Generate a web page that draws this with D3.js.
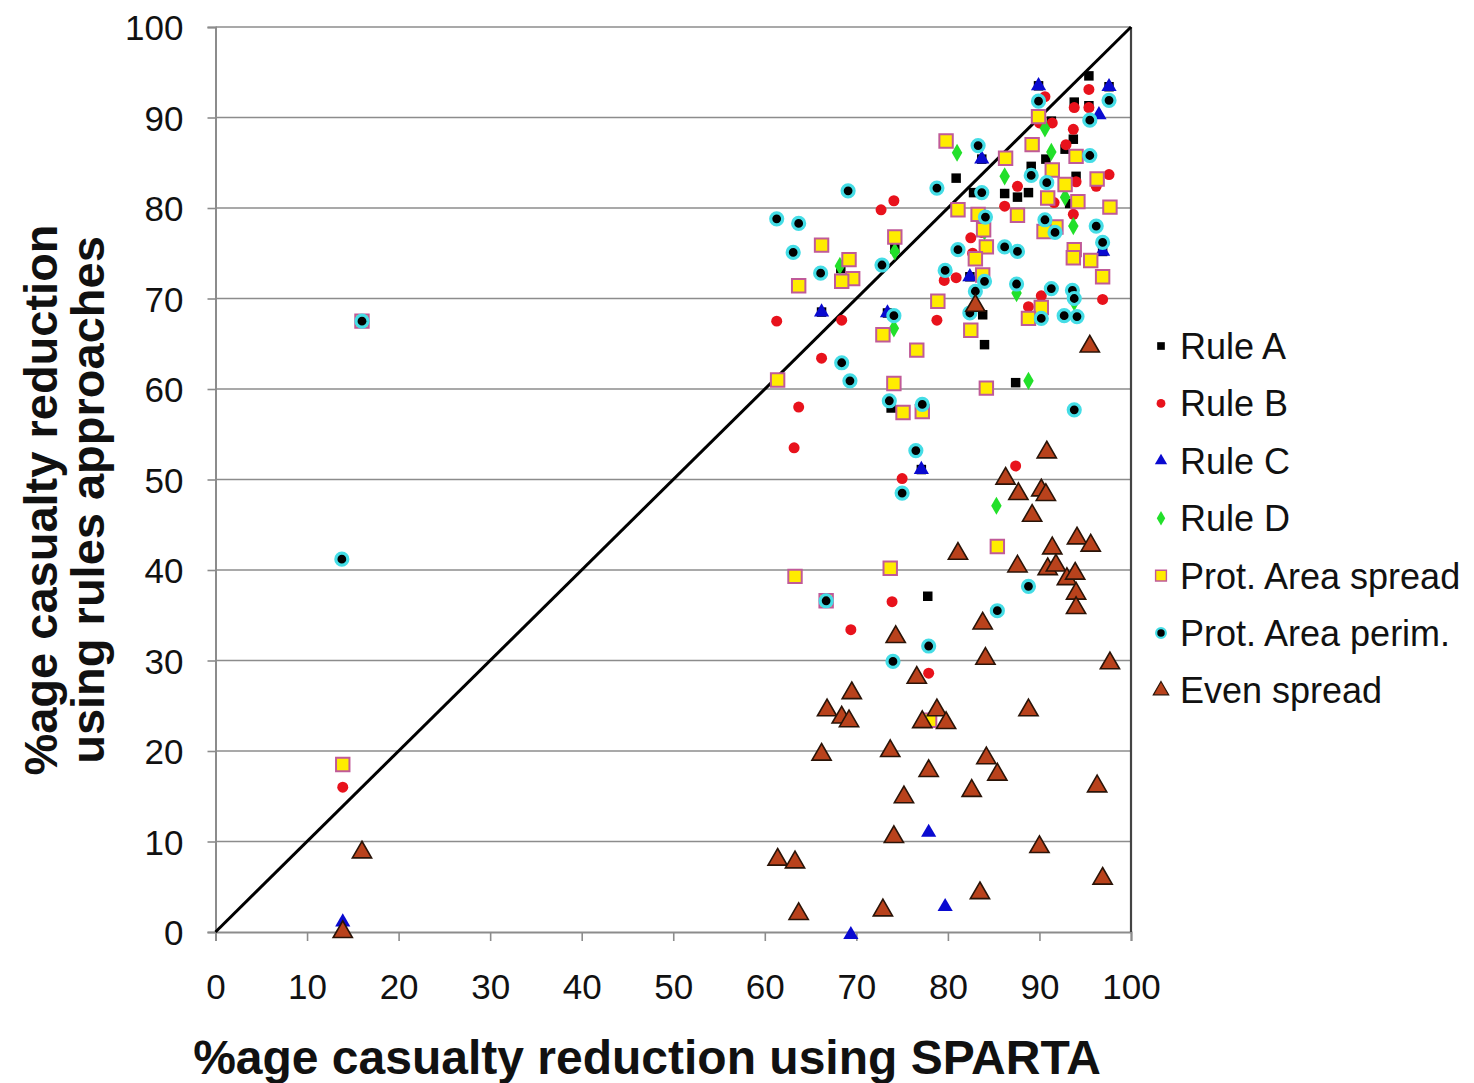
<!DOCTYPE html>
<html>
<head>
<meta charset="utf-8">
<script src="https://cdn.jsdelivr.net/npm/d3@7"></script>
<style>
  html, body { margin: 0; padding: 0; background: #fff; }
  svg { display: block; }
  text { font-family: "Liberation Sans", Arial, sans-serif; fill: #111; }
</style>
</head>
<body>
<svg id="chart" width="1474" height="1083"></svg>
<script>
// ---------- data (x = % reduction using SPARTA, y = % reduction using rules) ----------
const xTicks = [0, 10, 20, 30, 40, 50, 60, 70, 80, 90, 100];
const yTicks = [0, 10, 20, 30, 40, 50, 60, 70, 80, 90, 100];

const seriesNames = ["Rule A", "Rule B", "Rule C", "Rule D", "Prot. Area spread", "Prot. Area perim.", "Even spread"];

const ruleA = [
  [95.4,94.6],[93.8,91.7],[95.4,91.3],[91.3,89.6],[93.7,87.6],[92.8,86.5],[90.7,85.4],[89.1,84.6],
  [80.9,83.3],[94.0,83.5],[82.8,81.7],[86.2,81.6],[87.6,81.2],[88.8,81.7],[93.3,80.5],[74.2,75.5],
  [68.3,73.3],[83.8,68.2],[84.0,64.9],[87.4,60.7],[73.8,57.9],[77.8,37.1],
  [89.9,93.5],[97.6,93.4],[83.7,85.4],[96.9,75.2],[82.4,72.4],[66.2,68.5],[73.4,68.4],[77.1,51.1]
];
const ruleB = [
  [95.4,93.1],[90.6,92.3],[93.8,91.1],[95.4,91.1],[90.0,89.4],[91.4,89.4],[93.7,88.7],[92.9,87.0],
  [94.0,82.9],[97.6,83.7],[96.2,82.4],[87.6,82.4],[91.6,80.6],[86.2,80.2],[72.7,79.8],[74.1,80.8],
  [93.7,79.3],[83.7,77.3],[82.5,76.7],[82.7,75.0],[80.9,72.3],[79.6,72.0],[83.8,72.4],[90.2,70.3],
  [96.9,69.9],[88.8,69.1],[61.3,67.5],[68.4,67.6],[78.8,67.6],[66.2,63.4],[63.7,58.0],[63.2,53.5],
  [75.0,50.1],[87.4,51.5],[73.9,36.5],[69.4,33.4],[77.9,28.6],[13.9,16.0]
];
const ruleC = [
  [89.9,93.5],[97.6,93.4],[96.5,90.3],[83.7,85.4],[96.9,75.2],[82.4,72.4],[66.2,68.5],[73.4,68.4],
  [77.1,51.1],[77.9,11.0],[79.7,2.8],[69.4,-0.3],[13.9,1.1]
];
const ruleD = [
  [90.6,88.8],[91.3,86.2],[81.0,86.1],[86.2,83.5],[92.8,81.2],[93.7,78.0],[84.0,77.4],[74.2,75.2],
  [68.2,73.6],[87.5,70.6],[93.8,69.6],[74.1,66.7],[88.8,60.9],[85.3,47.1]
];
const protAreaSpread = [
  [89.9,90.1],[79.8,87.4],[89.2,87.0],[86.3,85.5],[94.0,85.7],[91.4,84.2],[92.8,82.6],[96.3,83.2],
  [90.9,81.1],[94.2,80.7],[97.7,80.1],[81.1,79.8],[83.3,79.3],[87.6,79.2],[91.8,77.9],[90.5,77.4],
  [83.9,77.6],[84.2,75.7],[83.0,74.4],[93.8,75.4],[93.7,74.5],[95.6,74.2],[96.9,72.4],[83.8,72.6],
  [90.2,69.0],[88.8,67.8],[82.5,66.5],[74.2,76.8],[66.2,75.9],[69.2,74.3],[69.6,72.2],[68.4,71.9],
  [63.7,71.4],[78.9,69.7],[72.9,66.0],[76.6,64.3],[61.4,61.0],[74.1,60.6],[75.1,57.4],[77.2,57.5],
  [84.2,60.1],[85.4,42.6],[63.3,39.3],[73.7,40.2],[66.7,36.6],[78.0,23.4],[13.9,18.5],[16.0,67.5]
];
const protAreaPerim = [
  [89.9,91.8],[97.6,91.9],[95.5,89.7],[83.3,86.9],[95.5,85.8],[89.1,83.6],[90.8,82.8],[78.8,82.2],
  [69.1,81.9],[83.7,81.7],[84.1,79.0],[90.6,78.7],[91.7,77.3],[96.2,78.0],[96.9,76.2],[61.3,78.8],
  [63.7,78.3],[63.1,75.1],[81.1,75.4],[86.2,75.7],[87.6,75.2],[72.8,73.7],[66.1,72.8],[79.7,73.1],
  [84.0,71.9],[83.0,70.8],[87.5,71.6],[91.3,71.1],[93.6,70.9],[93.8,70.0],[82.4,68.4],[74.1,68.1],
  [90.2,67.8],[92.7,68.1],[94.1,68.0],[68.4,62.9],[69.3,60.9],[73.6,58.7],[77.2,58.3],[93.8,57.7],
  [76.5,53.2],[75.0,48.5],[88.8,38.2],[85.4,35.5],[66.7,36.6],[77.9,31.6],[74.0,29.9],[16.0,67.5],
  [13.8,41.2]
];
const evenSpread = [
  [13.9,0],[16.0,8.8],[61.4,8.0],[63.3,7.7],[63.7,2.0],[66.2,19.6],[66.8,24.5],[68.4,23.7],
  [69.2,23.3],[69.5,26.4],[72.9,2.4],[73.7,20.0],[74.1,10.5],[74.3,32.6],[75.2,14.9],[76.6,28.1],
  [77.2,23.2],[77.9,17.8],[78.8,24.5],[79.8,23.1],[81.1,41.8],[82.6,15.6],[83.0,69.2],[83.5,4.3],
  [83.8,34.1],[84.1,30.2],[84.2,19.2],[85.4,17.4],[86.3,50.1],[87.6,40.4],[87.7,48.4],[88.8,24.5],
  [89.2,46.0],[90.0,9.4],[90.2,48.8],[90.7,48.3],[90.8,53.0],[90.9,40.1],[91.4,42.4],[91.8,40.5],
  [93.0,39.0],[93.9,39.6],[94.0,37.4],[94.0,35.8],[94.1,43.5],[95.5,64.7],[95.6,42.7],[96.3,16.1],
  [96.9,5.9],[97.7,29.7]
];
const parityLine = [[0, 0], [100, 100]];

// ---------- layout ----------
const svg = d3.select("#chart");
const M = { left: 215.5, right: 1131, top: 27, bottom: 932 };
const x = d3.scaleLinear().domain([0, 100]).range([M.left, M.right]);
const y = d3.scaleLinear().domain([0, 100]).range([M.bottom, M.top]);

// gridlines
svg.append("g").selectAll("line").data(yTicks.filter(d => d > 0)).join("line")
  .attr("x1", M.left).attr("x2", M.right)
  .attr("y1", d => y(d)).attr("y2", d => y(d))
  .attr("stroke", "#8c8c8c").attr("stroke-width", 1.6);

// axes
const xAxis = d3.axisBottom(x).tickValues(xTicks).tickSize(9).tickPadding(33).tickFormat(d3.format("d"));
const yAxis = d3.axisLeft(y).tickValues(yTicks).tickSize(8).tickPadding(24).tickFormat(d3.format("d"));
const gx = svg.append("g").attr("transform", `translate(0,${M.bottom})`).call(xAxis);
const gy = svg.append("g").attr("transform", `translate(${M.left},0)`).call(yAxis);
[gx, gy].forEach(g => {
  g.select(".domain").attr("stroke", "#8c8c8c").attr("stroke-width", 2);
  g.selectAll(".tick line").attr("stroke", "#8c8c8c").attr("stroke-width", 1.6);
  g.selectAll(".tick text").attr("font-size", 35).attr("fill", "#111")
    .style("font-family", '"Liberation Sans", Arial, sans-serif');
});
gy.selectAll(".tick text").attr("dy", "0.36em");
// right border
svg.append("line").attr("x1", M.right).attr("x2", M.right).attr("y1", M.top).attr("y2", M.bottom)
  .attr("stroke", "#444").attr("stroke-width", 2.2);

// parity line
svg.append("path").datum(parityLine)
  .attr("d", d3.line().x(d => x(d[0])).y(d => y(d[1])))
  .attr("stroke", "#000").attr("stroke-width", 3).attr("fill", "none");

// ---------- markers ----------
const styles = {
  "Rule A": { sym: d3.symbolSquare, size: 90, fill: "#000", stroke: "none", sw: 0 },
  "Rule B": { sym: d3.symbolCircle, size: 95, fill: "#e8121c", stroke: "none", sw: 0 },
  "Rule C": { sym: d3.symbolTriangle, size: 100, fill: "#0a0ad0", stroke: "none", sw: 0 },
  "Rule D": { sym: d3.symbolDiamond, size: 95, fill: "#22e02a", stroke: "none", sw: 0 },
  "Prot. Area spread": { sym: d3.symbolSquare, size: 180, fill: "#ffec00", stroke: "#c05a98", sw: 2 },
  "Prot. Area perim.": { sym: d3.symbolCircle, size: 113, fill: "#000", stroke: "#45dde6", sw: 3.2 },
  "Even spread": { sym: d3.symbolTriangle, size: 160, fill: "#b9421c", stroke: "#2a1408", sw: 1.6 }
};
const seriesData = [ruleA, ruleB, ruleC, ruleD, protAreaSpread, protAreaPerim, evenSpread];
const drawOrder = [0, 1, 2, 3, 4, 5, 6];

function symPath(st) {
  return d3.symbol().type(st.sym).size(st.size)();
}

drawOrder.forEach(i => {
  const st = styles[seriesNames[i]];
  svg.append("g").selectAll("path").data(seriesData[i]).join("path")
    .attr("d", symPath(st))
    .attr("transform", d => `translate(${x(d[0])},${y(d[1])})`)
    .attr("fill", st.fill)
    .attr("stroke", st.stroke)
    .attr("stroke-width", st.sw);
});

// ---------- legend ----------
const leg = svg.append("g").attr("transform", "translate(1161,346)");
seriesNames.forEach((name, i) => {
  const st = styles[name];
  const row = leg.append("g").attr("transform", `translate(0,${i * 57.4})`);
  row.append("path")
    .attr("d", d3.symbol().type(st.sym).size(st.size * 0.65)())
    .attr("fill", st.fill).attr("stroke", st.stroke).attr("stroke-width", st.sw * 0.7);
  row.append("text").attr("x", 19).attr("y", 0).attr("dy", "0.36em")
    .attr("font-size", 36).text(name);
});

// ---------- axis titles ----------
svg.append("text")
  .attr("x", 647).attr("y", 1074)
  .attr("text-anchor", "middle").attr("font-size", 48).attr("font-weight", "bold")
  .text("%age casualty reduction using SPARTA");

const yt = svg.append("text")
  .attr("transform", "translate(0,500) rotate(-90)")
  .attr("text-anchor", "middle").attr("font-size", 47).attr("font-weight", "bold");
yt.append("tspan").attr("x", 0).attr("y", 57).text("%age casualty reduction");
yt.append("tspan").attr("x", 0).attr("y", 104).text("using rules approaches");
</script>
</body>
</html>
